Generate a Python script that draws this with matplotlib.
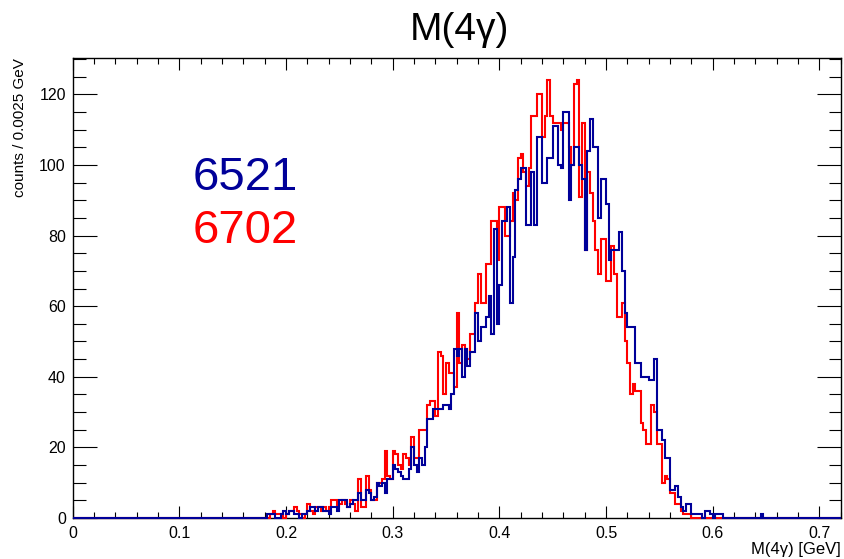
import numpy as np
import matplotlib
matplotlib.use("Agg")
import matplotlib.pyplot as plt
from matplotlib.ticker import MultipleLocator, FuncFormatter

plt.rcParams['font.family'] = ['Liberation Sans', 'DejaVu Sans']

# Histogram definition: 288 bins of 0.0025 GeV from 0 to 0.72
bin_width = 0.0025
n_bins = 288
first_bin_red = 72
first_bin_blue = 72

# run 6702 (red), counts per bin starting at bin 72 (0.18 GeV)
red_counts = [
    0, 0, 1, 2, 1, 1, 1, 0, 1, 2,
    2, 3, 2, 1, 0, 1, 4, 2, 1, 3,
    3, 2, 3, 2, 3, 5, 5, 3, 4, 5,
    4, 3, 5, 4,
    2, 11, 3, 3, 12, 8, 5, 5, 10, 10,
    11, 19, 12, 11, 19, 18, 15, 14, 18, 17,
    15, 23, 17, 17, 25, 25, 25, 32, 33, 33,
    29, 47,
    46, 35, 44, 41, 41, 37, 58, 44, 49, 48,
    45, 52, 52, 61, 69, 61, 61, 72, 72, 84,
    84, 73, 88, 88, 80, 80, 84, 92, 90, 102,
    103, 98,
    94, 99, 114, 114, 120, 120, 108, 114, 124, 114,
    112, 112, 112, 110, 112, 112, 105, 100, 123, 124,
    91, 112, 76, 98, 92, 84, 76, 69, 79, 79,
    67, 67, 77, 69, 57, 57, 61, 50, 44, 35,
    38, 36, 36, 27, 25, 21, 21, 32, 30, 21,
    21, 10,
    12, 11, 7, 7, 4, 4, 2, 1, 1, 1,
    0, 0, 0, 0, 0, 0, 0, 0, 0, 0,
    0, 0, 0, 0,
]

# run 6521 (blue), counts per bin starting at bin 72 (0.18 GeV)
blue_counts = [
    0, 1, 1, 1, 0, 0, 1, 2, 1, 2,
    2, 1, 1, 0, 1, 1, 2, 3, 3, 2,
    3, 3, 2, 2, 1, 3, 3, 2, 5, 5,
    5, 3, 4, 5,
    5, 7, 5, 5, 8, 7, 5, 6, 10, 9,
    10, 7, 11, 11, 15, 14, 13, 12, 11, 11,
    14, 20, 15, 13, 17, 15, 20, 28, 28, 31,
    31, 31,
    31, 32, 32, 31, 35, 48, 46, 48, 40, 48,
    43, 47, 47, 58, 50, 54, 54, 57, 63, 52,
    82, 55, 66, 84, 84, 88, 61, 74, 93, 96,
    99, 99,
    83, 83, 98, 83, 108, 108, 95, 95, 102, 102,
    111, 111, 100, 99, 115, 115, 90, 100, 105, 105,
    100, 96, 76, 104, 113, 105, 105, 85, 96, 96,
    89, 73, 76, 76, 76, 81, 70, 58, 54, 54,
    54, 44, 44, 40, 40, 40, 39, 39, 45, 25,
    25, 22,
    17, 17, 8, 8, 9, 6, 3, 2, 4, 4,
    1, 1, 1, 1, 0, 2, 2, 1, 0, 1,
    1, 1, 0, 0, 0, 0, 0, 0, 0, 0,
    0, 0, 0, 0, 0, 0, 1,
]

labels = ["6521", "6702"]
colors = ["#000099", "#ff0000"]

edges = np.arange(n_bins + 1) * bin_width
red_full = np.zeros(n_bins)
red_full[first_bin_red:first_bin_red + len(red_counts)] = red_counts
blue_full = np.zeros(n_bins)
blue_full[first_bin_blue:first_bin_blue + len(blue_counts)] = blue_counts

W, H = 845, 559
fig = plt.figure(figsize=(W / 100, H / 100), dpi=100)
L, R, T, B = 72.7, 840.7, 58, 518
ax = fig.add_axes([L / W, 1 - B / H, (R - L) / W, (B - T) / H])

ax.stairs(red_full, edges, color=colors[1], lw=1.5, baseline=None, zorder=3, clip_on=False)
ax.stairs(blue_full, edges, color=colors[0], lw=1.5, baseline=None, zorder=4, clip_on=False)

ax.set_xlim(0, 0.72)
ax.set_ylim(0, 130.3)

ax.xaxis.set_major_locator(MultipleLocator(0.1))
ax.xaxis.set_minor_locator(MultipleLocator(0.02))
ax.yaxis.set_major_locator(MultipleLocator(20))
ax.yaxis.set_minor_locator(MultipleLocator(5))
ax.xaxis.set_major_formatter(FuncFormatter(lambda v, p: "0" if abs(v) < 1e-9 else f"{v:.1f}"))
ax.yaxis.set_major_formatter(FuncFormatter(lambda v, p: f"{v:.0f}"))

ax.tick_params(axis='x', which='major', direction='in', length=8.6, width=0.8,
               top=True, bottom=True, labelsize=11.5, pad=6)
ax.tick_params(axis='x', which='minor', direction='in', length=4.3, width=0.8, top=True, bottom=True)
ax.tick_params(axis='y', which='major', direction='in', length=17, width=0.8,
               left=True, right=True, labelsize=11.5, pad=5)
ax.tick_params(axis='y', which='minor', direction='in', length=9, width=0.8, left=True, right=True)
for s in ax.spines.values():
    s.set_linewidth(1.0)

fig.text(459 / W, 1 - 40 / H, "M(4γ)", fontsize=28, ha='center', va='baseline')
fig.text(841 / W, 1 - 554 / H, "M(4γ) [GeV]", fontsize=12, ha='right', va='baseline')
fig.text(20 / W, 1 - 58 / H, "counts / 0.0025 GeV", fontsize=11, rotation=90,
         ha='center', va='top')

ax.text(0.112, 92.9, labels[0], color=colors[0], fontsize=34, va='baseline', ha='left')
ax.text(0.112, 77.9, labels[1], color=colors[1], fontsize=34, va='baseline', ha='left')

fig.savefig("out.png", dpi=100)
